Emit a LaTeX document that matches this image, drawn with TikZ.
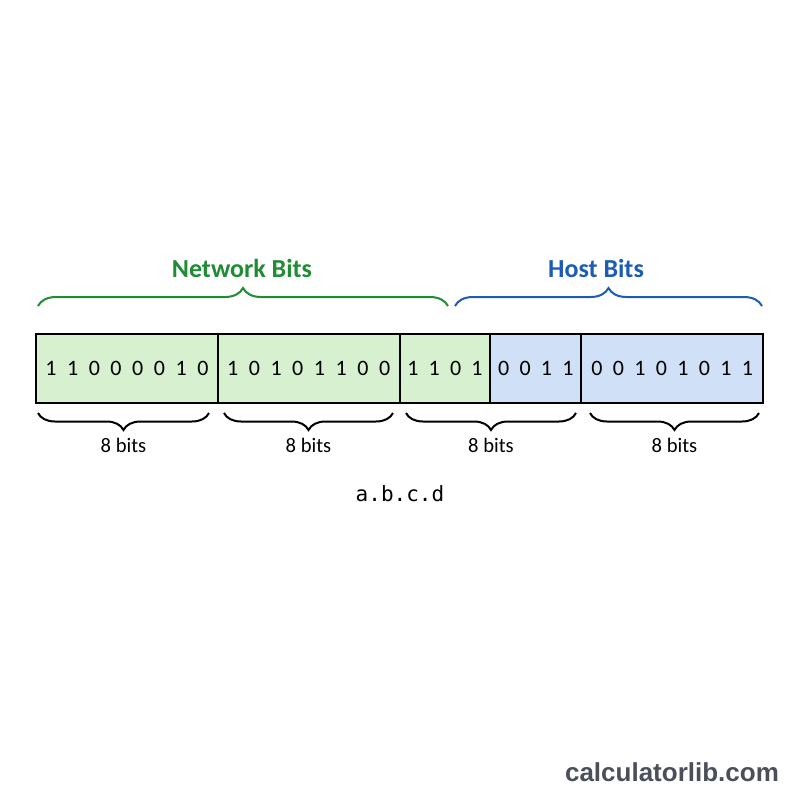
\documentclass[tikz,border=0pt]{standalone}
\usepackage{fontspec}
\setmainfont{Carlito}
\newfontfamily\markfont{Liberation Sans}
\newfontfamily\addrfont{DejaVu Sans Mono}
\usetikzlibrary{positioning,decorations.pathreplacing}
\definecolor{netfill}{RGB}{214,240,208}
\definecolor{hostfill}{RGB}{207,224,247}
\definecolor{netc}{RGB}{32,140,52}
\definecolor{hostc}{RGB}{28,92,182}
\definecolor{markc}{RGB}{74,79,90}
\tikzset{
  seg/.style={draw,line width=1pt,inner sep=0pt,outer sep=0pt,minimum height=34.5pt},
  netseg/.style={seg,fill=netfill},
  hostseg/.style={seg,fill=hostfill},
  bit/.style={font=\fontsize{11}{13}\selectfont,inner sep=0pt},
  brc/.style={decorate,decoration={brace,amplitude=8.5pt},line width=1pt},
  topbrc/.style={brc,decoration={brace,amplitude=9pt}},
  hd/.style={font=\fontsize{13}{15}\selectfont\bfseries},
  lbl/.style={font=\fontsize{10.3}{12}\selectfont}
}
\begin{document}
\begin{tikzpicture}[x=0.5pt,y=-0.5pt]
\useasboundingbox[fill=white] (0,0) rectangle (800,800);

% the five blocks of the address
\node[netseg,minimum width=90.88pt,anchor=west] (seg1) at (36,368.5) {};
\node[netseg,minimum width=90.88pt,right=0pt of seg1] (seg2) {};
\node[netseg,minimum width=45.44pt,right=0pt of seg2] (seg3a) {};
\node[hostseg,minimum width=45.44pt,right=0pt of seg3a] (seg3b) {};
\node[hostseg,minimum width=90.88pt,right=0pt of seg3b] (seg4) {};

% bits, centred in each block
\foreach \b [count=\j] in {1,1,0,0,0,0,1,0}
  \node[bit,xshift={(\j-4.5)*10.85pt}] (s1b\j) at (seg1) {\b};
\foreach \b [count=\j] in {1,0,1,0,1,1,0,0}
  \node[bit,xshift={(\j-4.5)*10.85pt}] (s2b\j) at (seg2) {\b};
\foreach \b [count=\j] in {1,1,0,1}
  \node[bit,xshift={(\j-2.5)*10.7pt}] (s3b\j) at (seg3a) {\b};
\foreach \b [count=\j] in {0,0,1,1}
  \node[bit,xshift={(\j-2.5)*10.7pt}] (s4b\j) at (seg3b) {\b};
\foreach \b [count=\j] in {0,0,1,0,1,0,1,1}
  \node[bit,xshift={(\j-4.5)*10.75pt}] (s5b\j) at (seg4) {\b};

% network / host braces
\coordinate (n1) at (38,306); \coordinate (n2) at (448,306);
\coordinate (h1) at (455,306); \coordinate (h2) at (762,306);
\draw[topbrc,netc] (n1) -- (n2);
\draw[topbrc,hostc] (h1) -- (h2);
\node[hd,text=netc] (nlbl) at (242,268) {Network Bits};
\node[hd,text=hostc] (hlbl) at (596,268) {Host Bits};

% octet braces
\coordinate (o1a) at (38,413); \coordinate (o1b) at (209,413);
\coordinate (o2a) at (224,413); \coordinate (o2b) at (393,413);
\coordinate (o3a) at (406,413); \coordinate (o3b) at (576,413);
\coordinate (o4a) at (590,413); \coordinate (o4b) at (759,413);
\foreach \k in {1,...,4}
  \draw[brc] (o\k b) -- (o\k a) node[lbl,midway,below=9pt] (w\k) {8 bits};

\node[font=\addrfont\fontsize{10.5}{12}\selectfont] (addr) at (400,494) {a.b.c.d};
\node[font=\markfont\bfseries\fontsize{13}{15}\selectfont,text=markc] (mark) at (672,772) {calculatorlib.com};
\end{tikzpicture}
\end{document}
